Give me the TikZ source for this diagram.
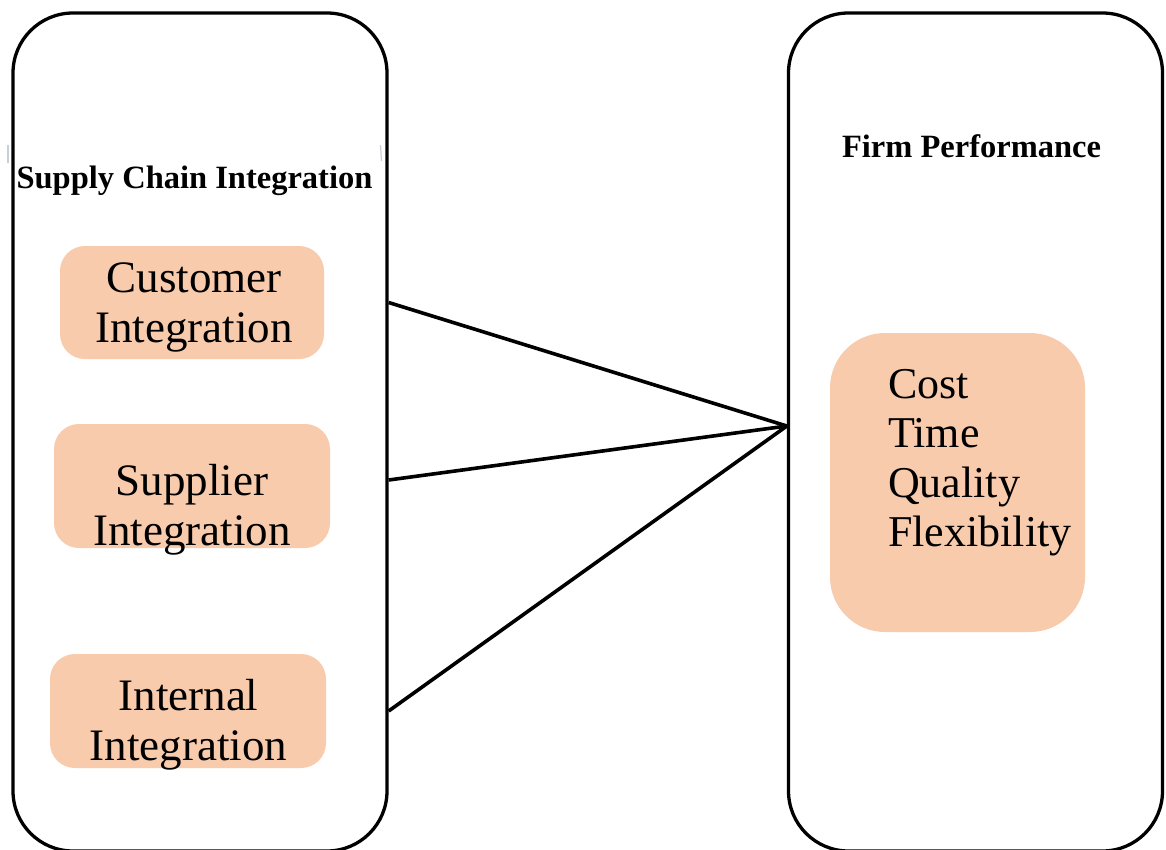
\documentclass[tikz,border=0pt]{standalone}
\usepackage{fontspec}
\setmainfont{Liberation Serif}
\definecolor{peach}{HTML}{F8CBAD}
\definecolor{faint}{HTML}{C8CDD6}
\begin{document}
\begin{tikzpicture}[x=1pt,y=-1pt,
  bigbox/.style={draw=black, line width=3.3pt, rounded corners=60pt, minimum width=374pt, minimum height=838pt, inner sep=0pt},
  factor/.style={fill=peach, draw=none, rounded corners=25pt, inner sep=0pt},
  factortext/.style={font=\fontsize{45}{50}\selectfont, align=center, inner sep=0pt},
  title/.style={font=\fontsize{32.5}{36}\selectfont\bfseries, inner sep=0pt, anchor=base},
  link/.style={draw=black, line width=3.6pt}]
\useasboundingbox (0,0) rectangle (1166,849);
\clip (0,0) rectangle (1166,849);
\fill[white] (0,0) rectangle (1166,849);

% big containers
\node[bigbox] (scl) at (200,432) {};
\node[bigbox] (fp) at (975.5,432) {};

% titles
\node[title] (sciT) at (194.5,188) {Supply Chain Integration};
\node[title] (fpT) at (971.5,157) {Firm Performance};

% faint text-box marks
\draw[faint, line width=1.2pt] (8,145) -- (8,163);
\draw[faint, line width=1.2pt] (380.5,145) -- (381.5,161);

% factor boxes
\node[factor, minimum width=264pt, minimum height=113pt] (cust) at (192,302.5) {};
\node[factor, minimum width=276pt, minimum height=124pt] (supp) at (192,486) {};
\node[factor, minimum width=276pt, minimum height=114pt] (intl) at (188,711) {};
\node[factor, rounded corners=55pt, minimum width=255pt, minimum height=299pt] (perf) at (957.5,482.5) {};

\node[factortext] (custT) at (194,307.5) {Customer\\Integration};
\node[factortext] (suppT) at (192,510) {Supplier\\Integration};
\node[factortext] (intlT) at (188.5,725) {Internal\\Integration};
\node[factortext, align=left, anchor=north west, font=\fontsize{44}{49.5}\selectfont] (perfT) at (888,369) {Cost\\Time\\Quality\\Flexibility};

% connectors
\coordinate (hub) at ([yshift=6pt]fp.west);
\draw[link] (scl.east |- cust.center) -- (hub);
\draw[link] ([yshift=6pt]scl.east |- supp.center) -- (hub);
\draw[link] (scl.east |- intl.center) -- (hub);
\end{tikzpicture}
\end{document}
